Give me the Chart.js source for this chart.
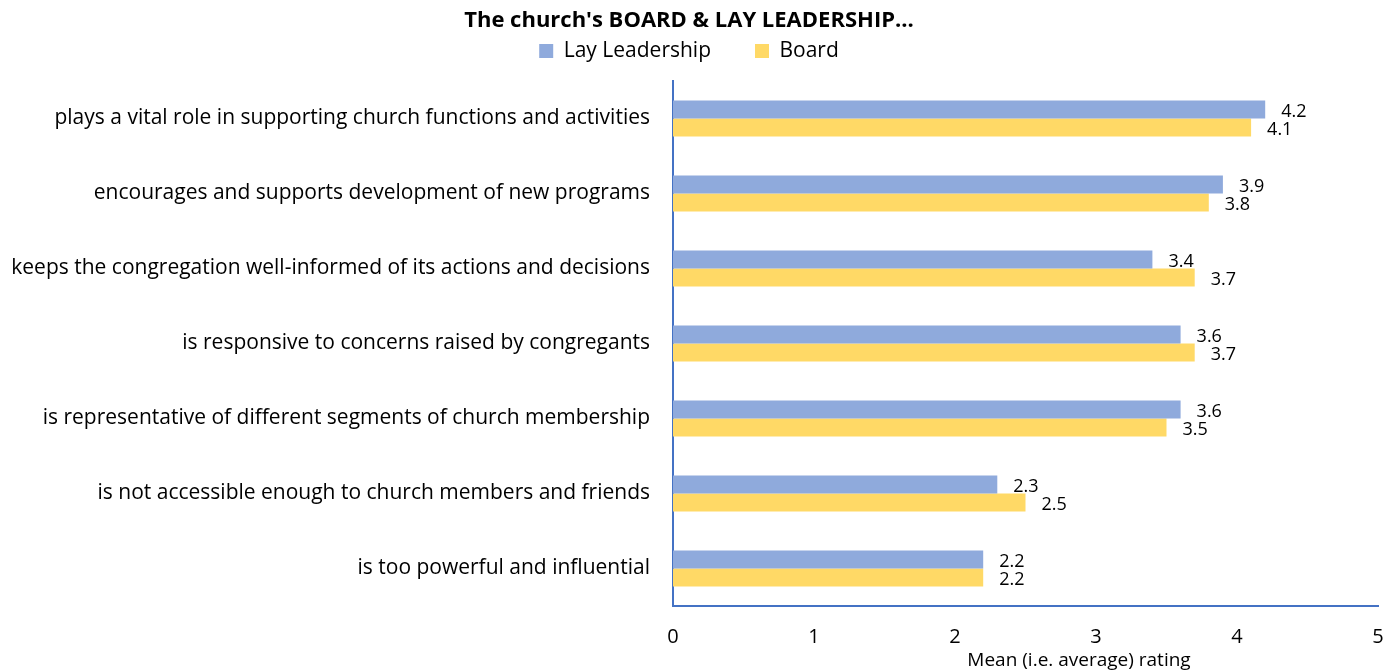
<!DOCTYPE html>
<html>
<head>
<meta charset="utf-8">
<script src="https://cdn.jsdelivr.net/npm/chart.js@4.4.1/dist/chart.umd.min.js"></script>
<style>
  html, body { margin: 0; padding: 0; background: #fff; }
  #wrap { width: 1387px; height: 672px; }
</style>
</head>
<body>
<div id="wrap"><canvas id="myChart" width="1387" height="672"></canvas></div>
<script>
var categories = [
  'plays a vital role in supporting church functions and activities',
  'encourages and supports development of new programs',
  'keeps the congregation well-informed of its actions and decisions',
  'is responsive to concerns raised by congregants',
  'is representative of different segments of church membership',
  'is not accessible enough to church members and friends',
  'is too powerful and influential'
];
var layLeadership = [4.2, 3.9, 3.4, 3.6, 3.6, 2.3, 2.2];
var board = [4.1, 3.8, 3.7, 3.7, 3.5, 2.5, 2.2];
var xTicks = [0, 1, 2, 3, 4, 5];

var FONT = '"Open Sans", Lato, sans-serif';
Chart.defaults.font.family = FONT;
Chart.defaults.color = '#000';

// value labels at the end of each bar
var barLabels = {
  id: 'barLabels',
  afterDatasetsDraw: function (chart) {
    var ctx = chart.ctx;
    ctx.save();
    ctx.font = '18px ' + FONT;
    ctx.fillStyle = '#000';
    ctx.textAlign = 'left';
    ctx.textBaseline = 'middle';
    chart.data.datasets.forEach(function (ds, i) {
      chart.getDatasetMeta(i).data.forEach(function (bar, j) {
        ctx.fillText(ds.data[j].toFixed(1), bar.x + 16, bar.y + 2);
      });
    });
    ctx.restore();
  }
};

// axis title sits right of the plot centre, like the original
var axisTitle = {
  id: 'axisTitle',
  afterDraw: function (chart) {
    var ctx = chart.ctx;
    ctx.save();
    ctx.font = '19px ' + FONT;
    ctx.fillStyle = '#000';
    ctx.textAlign = 'center';
    ctx.textBaseline = 'middle';
    ctx.fillText('Mean (i.e. average) rating', 1079, 661);
    ctx.restore();
  }
};

// keep wide spacing between legend items without pushing it down
var legendSpot = {
  id: 'legendSpot',
  beforeInit: function (chart) {
    var fit = chart.legend.fit;
    chart.legend.fit = function () {
      fit.bind(chart.legend)();
      this.height = 46.6;
    };
  },
  afterLayout: function (chart) {
    chart.legend.top = -3.5;
  }
};

var ctx = document.getElementById('myChart');
var myChart = new Chart(ctx, {
  type: 'bar',
  data: {
    labels: categories,
    datasets: [{
      label: 'Lay Leadership',
      data: layLeadership,
      backgroundColor: '#8FAADC',
      categoryPercentage: 0.48,
      barPercentage: 1
    }, {
      label: 'Board',
      data: board,
      backgroundColor: '#FFD966',
      categoryPercentage: 0.48,
      barPercentage: 1
    }]
  },
  options: {
    indexAxis: 'y',
    responsive: false,
    animation: false,
    layout: { padding: { left: 0, right: 9, top: 0, bottom: 0 } },
    scales: {
      x: {
        min: 0,
        max: 5,
        afterBuildTicks: function (scale) {
          scale.ticks = xTicks.map(function (v) { return { value: v }; });
        },
        afterFit: function (scale) {
          scale.height = 66;
          scale.paddingLeft = 0;
          scale.paddingRight = 0;
        },
        grid: { display: false, drawTicks: false },
        border: { color: '#4472C4', width: 2 },
        ticks: { font: { size: 20 }, padding: 19, color: '#000' }
      },
      y: {
        afterFit: function (scale) { scale.width = 673; },
        grid: { display: false, drawTicks: false },
        border: { color: '#4472C4', width: 2 },
        ticks: { font: { size: 21 }, padding: 23, color: '#000' }
      }
    },
    plugins: {
      title: {
        display: true,
        text: "The church's BOARD & LAY LEADERSHIP...",
        font: { size: 22, weight: 'bold' },
        color: '#000',
        padding: { top: 8, bottom: 0 }
      },
      legend: {
        position: 'top',
        labels: {
          boxWidth: 14,
          boxHeight: 14,
          padding: 44,
          font: { size: 21 },
          color: '#000'
        }
      },
      tooltip: { enabled: false }
    }
  },
  plugins: [barLabels, axisTitle, legendSpot]
});
</script>
</body>
</html>
